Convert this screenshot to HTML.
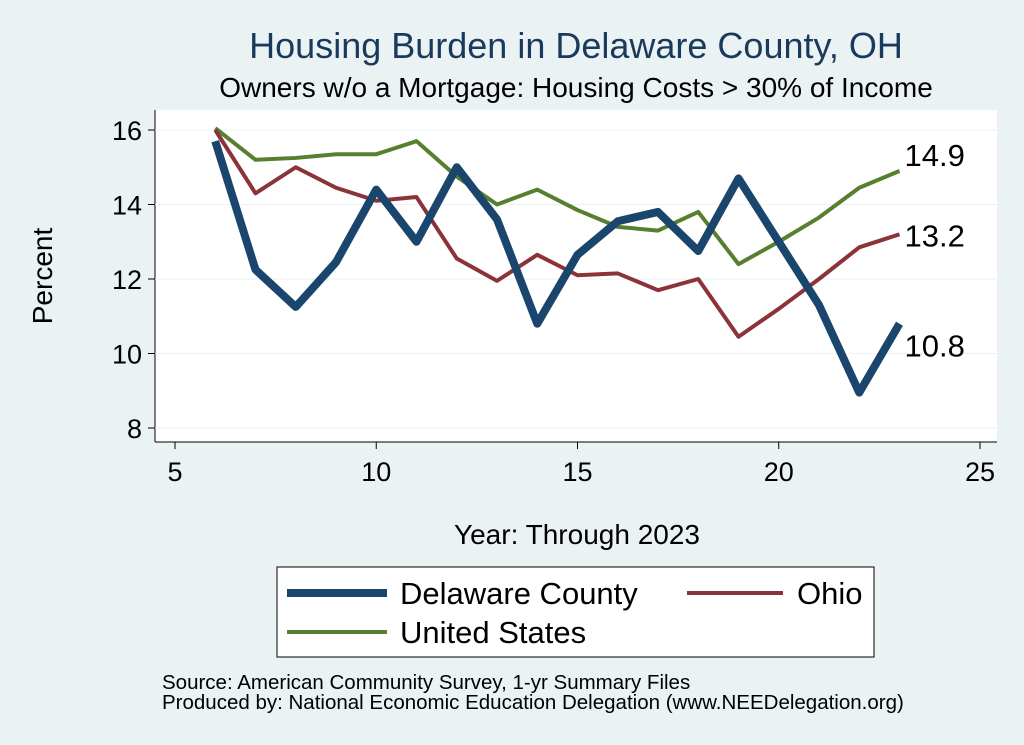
<!DOCTYPE html>
<html><head><meta charset="utf-8"><style>
body{margin:0;background:#eaf2f3;font-family:"Liberation Sans",Arial,sans-serif;}
svg{display:block}
</style></head><body>
<svg id="c" width="1024" height="745">
<rect x="0" y="0" width="1024" height="745" fill="#eaf2f3"/>
<text x="576" y="58" font-size="36" fill="#1a3a5c" text-anchor="middle">Housing Burden in Delaware County, OH</text>
<text x="576" y="97" font-size="28" fill="#000" text-anchor="middle">Owners w/o a Mortgage: Housing Costs &gt; 30% of Income</text>
<rect x="155" y="110" width="842" height="332" fill="#fff"/>
<g id="axes"></g>
<g id="series"></g>
<text x="52" y="276" font-size="28" text-anchor="middle" transform="rotate(-90 52 276)">Percent</text>
<text x="577" y="544" font-size="28" text-anchor="middle">Year: Through 2023</text>
<g>
<rect x="277" y="567" width="597" height="90" fill="#fff" stroke="#000" stroke-width="1"/>
<line x1="287" y1="593" x2="387" y2="593" stroke="#1a466e" stroke-width="8"/>
<text x="400" y="604" font-size="31">Delaware County</text>
<line x1="687" y1="593" x2="783" y2="593" stroke="#8b3338" stroke-width="4"/>
<text x="797" y="604" font-size="31">Ohio</text>
<line x1="287" y1="632" x2="387" y2="632" stroke="#587f2f" stroke-width="4"/>
<text x="400" y="643" font-size="31">United States</text>
</g>
<text x="162" y="689" font-size="20.5">Source: American Community Survey, 1-yr Summary Files</text>
<text x="162" y="709" font-size="20.5">Produced by: National Economic Education Delegation (www.NEEDelegation.org)</text>
</svg>
<script>
const years=[6,7,8,9,10,11,12,13,14,15,16,17,18,19,20,21,22,23];
const delaware=[15.7,12.25,11.25,12.45,14.4,13.0,15.0,13.6,10.8,12.65,13.55,13.8,12.75,14.7,13.0,11.3,8.95,10.8];
const ohio=[16.0,14.3,15.0,14.45,14.1,14.2,12.55,11.95,12.65,12.1,12.15,11.7,12.0,10.45,11.2,12.0,12.85,13.2];
const us=[16.05,15.2,15.25,15.35,15.35,15.7,14.75,14.0,14.4,13.85,13.4,13.3,13.8,12.4,13.0,13.65,14.45,14.9];
const xTicks=[5,10,15,20,25];
const yTicks=[8,10,12,14,16];
const NS="http://www.w3.org/2000/svg";
const xs=v=>175+(v-5)*40.25;
const ys=v=>428-(v-8)*37.25;
const ax=document.getElementById('axes'),se=document.getElementById('series');
function mk(tag,at,p){const e=document.createElementNS(NS,tag);for(const k in at)e.setAttribute(k,at[k]);p.appendChild(e);return e;}
let yl=mk('line',{x1:155,y1:110,x2:155,y2:442,stroke:'#000'},ax);


let xl=mk('line',{x1:155,y1:442,x2:997,y2:442,stroke:'#000'},ax);


yTicks.forEach(t=>{
 const l=mk('line',{x1:148,x2:155,y1:ys(t),y2:ys(t),stroke:'#000'},ax);
 
 
 const g=mk('line',{x1:155,x2:997,y1:ys(t),y2:ys(t),stroke:'#eaf2f3'},ax);
 
 
 const tx=mk('text',{x:142,y:ys(t)+10,'font-size':27,'text-anchor':'end'},ax);tx.textContent=t;
 
 
});
xTicks.forEach(t=>{
 const l=mk('line',{x1:xs(t),x2:xs(t),y1:442,y2:449,stroke:'#000'},ax);
 
 
 const tx=mk('text',{x:xs(t),y:481,'font-size':27,'text-anchor':'middle'},ax);tx.textContent=t;
 
 
});
function line(vals,col,w,name,dy){
 const p=mk('polyline',{points:vals.map((v,i)=>xs(years[i])+','+ys(v)).join(' '),fill:'none',stroke:col,'stroke-width':w,'stroke-linejoin':'round'},se);
 
 
 const last=vals[vals.length-1];
 const t=mk('text',{x:xs(years[years.length-1])+5,y:ys(last)+dy,'font-size':31},se);
 t.textContent=last.toFixed(1);
 
 
}
line(us,'#587f2f',4,'us-line',-5);
line(ohio,'#8b3338',4,'ohio-line',12);
line(delaware,'#1a466e',8,'delaware-line',33);
</script>
</body></html>
